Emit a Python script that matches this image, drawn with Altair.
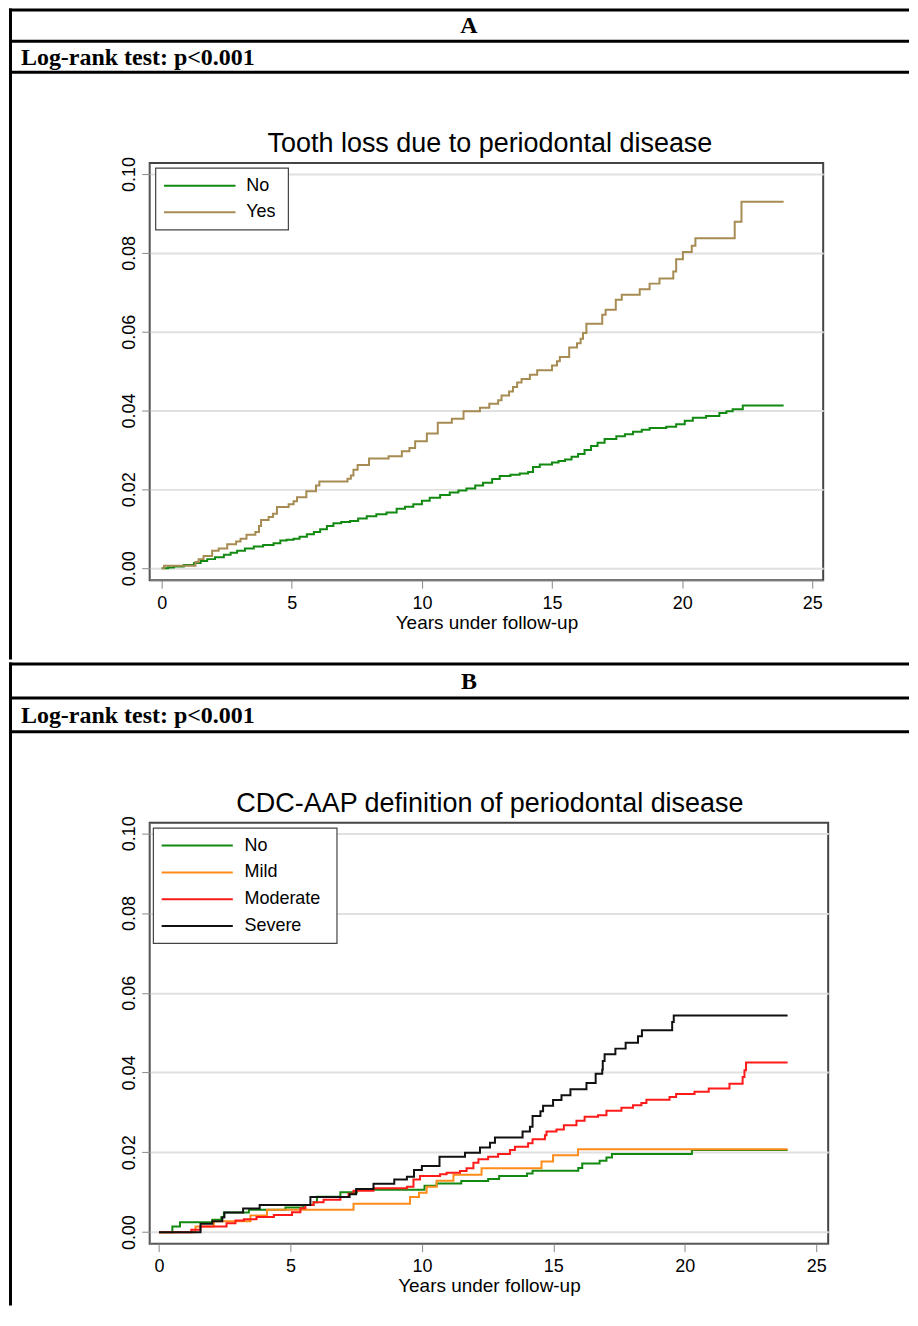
import altair as alt
import pandas as pd

# ---------------- texts ----------------
header_a = "A"
header_b = "B"
logrank_text = "Log-rank test: p<0.001"
title_a = "Tooth loss due to periodontal disease"
title_b = "CDC-AAP definition of periodontal disease"
x_title = "Years under follow-up"
x_ticks = [0, 5, 10, 15, 20, 25]
y_ticks = [0.0, 0.02, 0.04, 0.06, 0.08, 0.10]

# ---------------- panel A data ----------------
a_groups = ["No", "Yes"]
a_colors = ["#128a12", "#a68c52"]

a_no_t = [0, 0.25, 0.47, 0.85, 1.24, 1.50, 1.75, 2.05, 2.39, 2.65, 2.90, 3.20, 3.54,
          3.90, 4.30, 4.56, 4.80, 5.07, 5.30, 5.58, 5.85, 6.09, 6.35, 6.60, 6.90, 7.24,
          7.55, 7.88, 8.25, 8.64, 9.03, 9.35, 9.67, 10.00, 10.30, 10.70, 11.07, 11.40,
          11.71, 12.05, 12.35, 12.70, 12.99, 13.40, 13.76, 14.08, 14.27, 14.53, 15.00,
          15.25, 15.50, 15.75, 16.00, 16.25, 16.50, 16.75, 17.02, 17.47, 17.80, 18.11,
          18.45, 18.75, 19.39, 19.77, 20.10, 20.41, 20.92, 21.43, 21.70, 21.94, 22.33,
          23.90]
a_no_y = [0, 0.0002, 0.0004, 0.0008, 0.0013, 0.0018, 0.0023, 0.0028, 0.0034, 0.0039,
          0.0044, 0.0050, 0.0055, 0.0059, 0.0063, 0.0070, 0.0072, 0.0075, 0.0080, 0.0086,
          0.0092, 0.0099, 0.0107, 0.0114, 0.0117, 0.0120, 0.0126, 0.0132, 0.0137, 0.0141,
          0.0151, 0.0156, 0.0162, 0.0171, 0.0179, 0.0186, 0.0192, 0.0197, 0.0202, 0.0210,
          0.0217, 0.0226, 0.0234, 0.0237, 0.0240, 0.0244, 0.0257, 0.0263, 0.0268, 0.0272,
          0.0276, 0.0283, 0.0290, 0.0300, 0.0310, 0.0318, 0.0328, 0.0335, 0.0340, 0.0346,
          0.0351, 0.0356, 0.0359, 0.0365, 0.0374, 0.0382, 0.0386, 0.0394, 0.0398, 0.0403,
          0.0413, 0.0413]

a_yes_t = [0, 0.09, 1.30, 1.42, 1.61, 1.94, 2.19, 2.52, 2.86, 3.03, 3.26, 3.60, 3.74,
           3.82, 4.11, 4.28, 4.43, 4.88, 5.07, 5.20, 5.56, 5.93, 6.06, 7.14, 7.27, 7.37,
           7.53, 7.97, 8.72, 9.23, 9.52, 9.74, 10.19, 10.61, 11.15, 11.60, 12.23, 12.59,
           12.93, 13.06, 13.35, 13.50, 13.66, 13.83, 14.15, 14.43, 15.00, 15.19, 15.30,
           15.66, 15.96, 16.10, 16.19, 16.32, 16.93, 17.06, 17.45, 17.68, 18.37, 18.75,
           19.13, 19.66, 19.77, 20.03, 20.37, 20.51, 22.02, 22.28, 23.90]
a_yes_y = [0, 0.0006, 0.0016, 0.0023, 0.0031, 0.0044, 0.0050, 0.0061, 0.0068, 0.0075,
           0.0085, 0.0092, 0.0107, 0.0122, 0.0130, 0.0138, 0.0155, 0.0162, 0.0170, 0.0180,
           0.0195, 0.0210, 0.0220, 0.0227, 0.0235, 0.0250, 0.0262, 0.0278, 0.0284, 0.0297,
           0.0305, 0.0322, 0.0342, 0.0369, 0.0379, 0.0398, 0.0407, 0.0417, 0.0426, 0.0438,
           0.0448, 0.0460, 0.0471, 0.0480, 0.0491, 0.0502, 0.0514, 0.0525, 0.0536, 0.0560,
           0.0571, 0.0582, 0.0597, 0.0620, 0.0643, 0.0656, 0.0681, 0.0694, 0.0708, 0.0722,
           0.0735, 0.0753, 0.0784, 0.0802, 0.0818, 0.0837, 0.0879, 0.0930, 0.0930]

# ---------------- panel B data ----------------
b_groups = ["No", "Mild", "Moderate", "Severe"]
b_colors = ["#128a12", "#ff8c1a", "#ff1a1a", "#111111"]

b_no_t = [0, 0.51, 0.80, 2.03, 2.37, 2.47, 3.42, 4.81, 5.50, 5.88, 6.01, 6.90, 7.53,
          10.10, 10.56, 11.50, 12.52, 12.94, 14.00, 14.21, 15.95, 16.10, 16.76, 17.02,
          17.23, 20.27, 23.91]
b_no_y = [0, 0.0014, 0.0025, 0.0031, 0.0037, 0.0049, 0.0056, 0.0062, 0.0068, 0.0075,
          0.0089, 0.0100, 0.0106, 0.0116, 0.0122, 0.0128, 0.0133, 0.0141, 0.0147, 0.0154,
          0.0161, 0.0172, 0.0179, 0.0187, 0.0196, 0.0206, 0.0206]

b_mild_t = [0, 1.39, 2.09, 3.48, 4.11, 7.40, 9.55, 9.89, 10.18, 10.56, 11.20, 12.27,
            14.55, 14.99, 15.94, 23.91]
b_mild_y = [0, 0.0014, 0.0027, 0.0042, 0.0056, 0.0071, 0.0088, 0.0099, 0.0114, 0.0129,
            0.0144, 0.0160, 0.0177, 0.0193, 0.0208, 0.0208]

b_mod_t = [0, 1.23, 1.58, 2.57, 2.91, 3.23, 3.71, 4.37, 5.06, 5.38, 5.57, 5.88, 6.26,
           6.90, 7.21, 7.40, 8.16, 9.43, 9.68, 9.93, 10.69, 10.94, 11.45, 11.70, 11.96,
           12.15, 12.52, 12.90, 13.35, 13.54, 14.04, 14.21, 14.68, 14.74, 15.12, 15.40,
           15.88, 16.19, 16.70, 17.02, 17.59, 18.03, 18.35, 18.54, 19.42, 19.67, 20.37,
           20.91, 21.70, 22.20, 22.27, 22.33, 23.91]
b_mod_y = [0, 0.0006, 0.0014, 0.0022, 0.0029, 0.0032, 0.0038, 0.0043, 0.0050, 0.0060,
           0.0068, 0.0075, 0.0081, 0.0088, 0.0096, 0.0104, 0.0110, 0.0114, 0.0132, 0.0141,
           0.0145, 0.0149, 0.0153, 0.0160, 0.0174, 0.0183, 0.0189, 0.0196, 0.0206, 0.0214,
           0.0223, 0.0233, 0.0243, 0.0252, 0.0257, 0.0268, 0.0279, 0.0289, 0.0293, 0.0304,
           0.0312, 0.0318, 0.0324, 0.0332, 0.0339, 0.0346, 0.0352, 0.0360, 0.0372, 0.0389,
           0.0406, 0.0425, 0.0425]

b_sev_t = [0, 1.58, 2.03, 2.41, 2.49, 3.20, 3.83, 5.76, 7.25, 7.50, 8.16, 8.95, 9.43,
           9.70, 10.00, 10.67, 11.64, 12.21, 12.59, 12.78, 13.83, 14.11, 14.21, 14.51,
           14.61, 14.99, 15.31, 15.65, 16.26, 16.61, 16.86, 16.88, 16.95, 17.36, 17.75,
           18.22, 18.37, 19.52, 19.58, 23.91]
b_sev_y = [0, 0.0021, 0.0027, 0.0037, 0.0049, 0.0059, 0.0068, 0.0088, 0.0095, 0.0108,
           0.0121, 0.0132, 0.0139, 0.0156, 0.0166, 0.0189, 0.0199, 0.0212, 0.0224, 0.0237,
           0.0252, 0.0264, 0.0291, 0.0303, 0.0317, 0.0331, 0.0343, 0.0358, 0.0374, 0.0397,
           0.0407, 0.0429, 0.0446, 0.0460, 0.0475, 0.0491, 0.0506, 0.0527, 0.0543, 0.0543]


def long_df(groups, ts, ys, field):
    rows = []
    for g, tt, yy in zip(groups, ts, ys):
        for t, y in zip(tt, yy):
            rows.append({field: g, "t": t, "y": y})
    return pd.DataFrame(rows)


df_a = long_df(a_groups, [a_no_t, a_yes_t], [a_no_y, a_yes_y], "tooth_loss")
df_b = long_df(b_groups, [b_no_t, b_mild_t, b_mod_t, b_sev_t],
               [b_no_y, b_mild_y, b_mod_y, b_sev_y], "cdc_aap")

one = pd.DataFrame({"d": [0]})
SANS = "Liberation Sans"
SERIF = "Liberation Serif"
FRAME = "#444444"


def rect(x1, x2, y1, y2, fill="black", stroke=None):
    kw = {"fill": fill}
    if stroke:
        kw.update(stroke=stroke, strokeWidth=1.2)
    return alt.Chart(one).mark_rect(**kw).encode(
        x=alt.value(x1), x2=alt.value(x2), y=alt.value(y1), y2=alt.value(y2))


def text(s, x, y, size, font, weight="normal", align="left", baseline="alphabetic"):
    return alt.Chart(one).mark_text(
        text=s, font=font, fontSize=size, fontWeight=weight, align=align,
        baseline=baseline, color="black").encode(x=alt.value(x), y=alt.value(y))


def legend_rule(x1, x2, y, color):
    return alt.Chart(one).mark_rule(color=color, strokeWidth=2).encode(
        x=alt.value(x1), x2=alt.value(x2), y=alt.value(y))


def curves(df, field, groups, colors, xdom, ydom):
    return alt.Chart(df).mark_line(interpolate="step-after", strokeWidth=2).encode(
        x=alt.X("t:Q", scale=alt.Scale(domain=xdom, nice=False, zero=False),
                axis=alt.Axis(values=x_ticks, title=x_title, grid=False, tickSize=8,
                              labelPadding=6, titlePadding=1, labelFlush=False,
                              labelFontSize=18, titleFontSize=19,
                              titleFontWeight="normal")),
        y=alt.Y("y:Q", scale=alt.Scale(domain=ydom, nice=False, zero=False),
                axis=alt.Axis(values=y_ticks, format=".2f", title=None, grid=True,
                              gridColor="#e0e0e0", gridWidth=2, tickSize=8,
                              labelAngle=270, labelAlign="center",
                              labelBaseline="alphabetic", labelPadding=7.5,
                              labelFontSize=18, labelOverlap=False, labelFlush=False)),
        color=alt.Color(f"{field}:N", scale=alt.Scale(domain=groups, range=colors),
                        legend=None),
    )


view_frame = alt.ViewBackground(stroke=FRAME, strokeWidth=2, fill="white")

# ---------------- panel A (plot origin at page 149,163) ----------------
A_W, A_H = 675, 418
layers_a = [
    rect(-141, 761, -155, -152),
    rect(-141, 761, -123.5, -120.5),
    rect(-141, 761, -92.5, -89.5),
    rect(-141, -138, -155, 497.5),
    text(header_a, 320, -130, 24, SERIF, "bold", "center"),
    text(logrank_text, -129, -98.5, 24, SERIF, "bold"),
    text(title_a, 341, -11, 27, SANS, align="center"),
    curves(df_a, "tooth_loss", a_groups, a_colors, [-0.46, 25.42], [-0.00304, 0.10278]),
    rect(6, 139, 5, 67, fill="white", stroke=FRAME),
]
for i, (g, c) in enumerate(zip(a_groups, a_colors)):
    yy = 22.7 + 26.6 * i
    layers_a.append(legend_rule(14.3, 86, yy, c))
    layers_a.append(text(g, 96.7, yy, 18, SANS, baseline="middle"))
panel_a = alt.layer(*layers_a).properties(width=A_W, height=A_H, view=view_frame)

# ---------------- panel B (plot origin at page 149,822) ----------------
B_W, B_H = 680, 422
layers_b = [
    rect(-141, 761, -160.5, -157.5),
    rect(-141, 761, -126.5, -123.5),
    rect(-141, 761, -92.5, -89.5),
    rect(-141, -138, -160.5, 484),
    text(header_b, 320, -134, 24, SERIF, "bold", "center"),
    text(logrank_text, -129, -100, 24, SERIF, "bold"),
    text(title_b, 341, -11, 27, SANS, align="center"),
    curves(df_b, "cdc_aap", b_groups, b_colors, [-0.353, 25.454], [-0.0029, 0.10265]),
    rect(3.7, 187.7, 5.5, 121, fill="white", stroke=FRAME),
]
for i, (g, c) in enumerate(zip(b_groups, b_colors)):
    yy = 23 + 26.9 * i
    layers_b.append(legend_rule(12, 83.3, yy, c))
    layers_b.append(text(g, 95, yy, 18, SANS, baseline="middle"))
panel_b = alt.layer(*layers_b).properties(width=B_W, height=B_H, view=view_frame)

chart = alt.vconcat(
    panel_a, panel_b, spacing=0,
    padding={"left": 0, "top": -2, "right": 0, "bottom": 0}
).resolve_scale(color="independent").configure_view(
    stroke=FRAME, strokeWidth=2
).configure_axis(
    labelFont=SANS, titleFont=SANS, labelColor="black", titleColor="black",
    titleFontWeight="normal", domainColor=FRAME, domainWidth=2,
    tickColor=FRAME, tickWidth=1.5
).configure(background="white")

chart.save("out.html", embed_options={"renderer": "svg", "actions": False})
